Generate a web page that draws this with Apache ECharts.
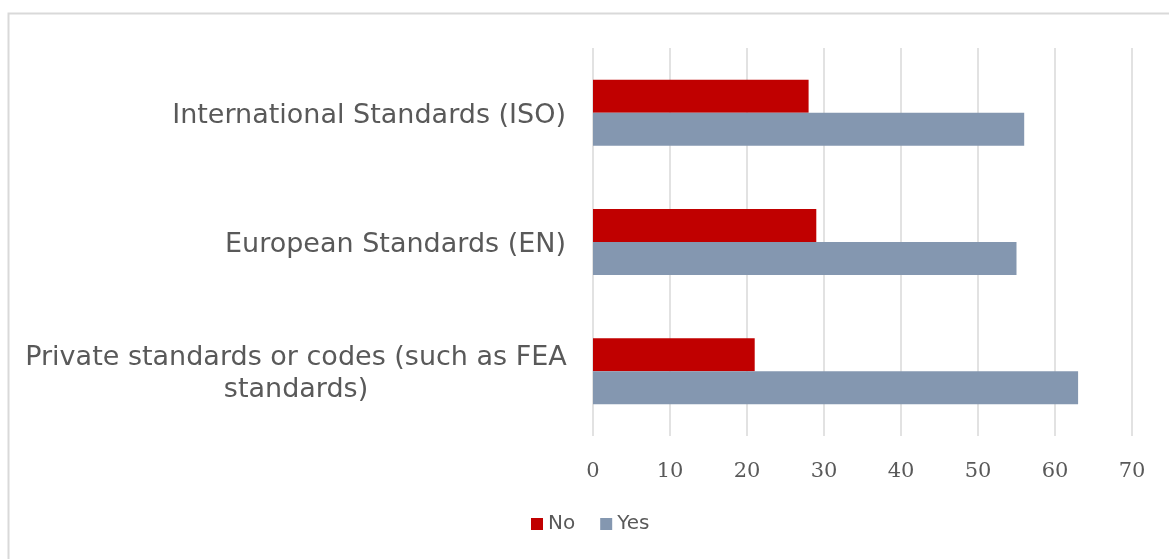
<!DOCTYPE html>
<html><head><meta charset="utf-8">
<script src="https://cdn.jsdelivr.net/npm/echarts@6/dist/echarts.min.js"></script>
<style>html,body{margin:0;padding:0;background:#fff}#c{width:1169px;height:559px}</style>
</head><body><div id="c"></div>
<script>
const categories = ['International Standards (ISO)', 'European Standards (EN)', 'Private standards or codes (such as FEA\nstandards)'];
const seriesNames = ['No', 'Yes'];
const noValues = [28, 29, 21];
const yesValues = [56, 55, 63];
const xTicks = { min: 0, max: 70, interval: 10 };

const chart = echarts.init(document.getElementById('c'), null, { renderer: 'canvas' });
chart.setOption({
  animation: false,
  backgroundColor: '#ffffff',
  graphic: [{
    type: 'rect', silent: true, z: -1,
    shape: { x: 8.5, y: 13.5, width: 1200, height: 600 },
    style: { fill: 'none', stroke: '#d9d9d9', lineWidth: 2 }
  }],
  grid: { left: 593, right: 37, top: 48, bottom: 123, containLabel: false },
  legend: {
    data: seriesNames,
    bottom: 20, left: 526,
    icon: 'rect', itemWidth: 12, itemHeight: 12, itemGap: 25,
    textStyle: { fontFamily: 'DejaVu Sans', fontSize: 20, color: '#595959' }
  },
  xAxis: {
    type: 'value', min: xTicks.min, max: xTicks.max, interval: xTicks.interval,
    axisLine: { show: false }, axisTick: { show: false },
    splitLine: { show: true, lineStyle: { color: '#d9d9d9', width: 1.5 } },
    axisLabel: { margin: 25, fontFamily: 'DejaVu Serif', fontSize: 21, color: '#595959' }
  },
  yAxis: {
    type: 'category', inverse: true, data: categories,
    axisLine: { show: false }, axisTick: { show: false },
    axisLabel: {
      margin: 27, fontFamily: 'DejaVu Sans', fontSize: 27, color: '#595959', lineHeight: 32,
      padding: [6, 0, 0, 0],
      formatter: function (v) {
        if (v.indexOf('\n') >= 0) {
          return v.split('\n').map(function (s) { return '{c|' + s + '}'; }).join('\n');
        }
        return v;
      },
      rich: { c: { width: 540, align: 'center', fontFamily: 'DejaVu Sans', fontSize: 27, color: '#595959', lineHeight: 32 } }
    }
  },
  series: [
    { name: seriesNames[0], type: 'bar', data: noValues, barWidth: 33, barGap: '0%', itemStyle: { color: '#C00000' } },
    { name: seriesNames[1], type: 'bar', data: yesValues, barWidth: 33, barGap: '0%', itemStyle: { color: '#8497B0' } }
  ]
});
</script></body></html>
